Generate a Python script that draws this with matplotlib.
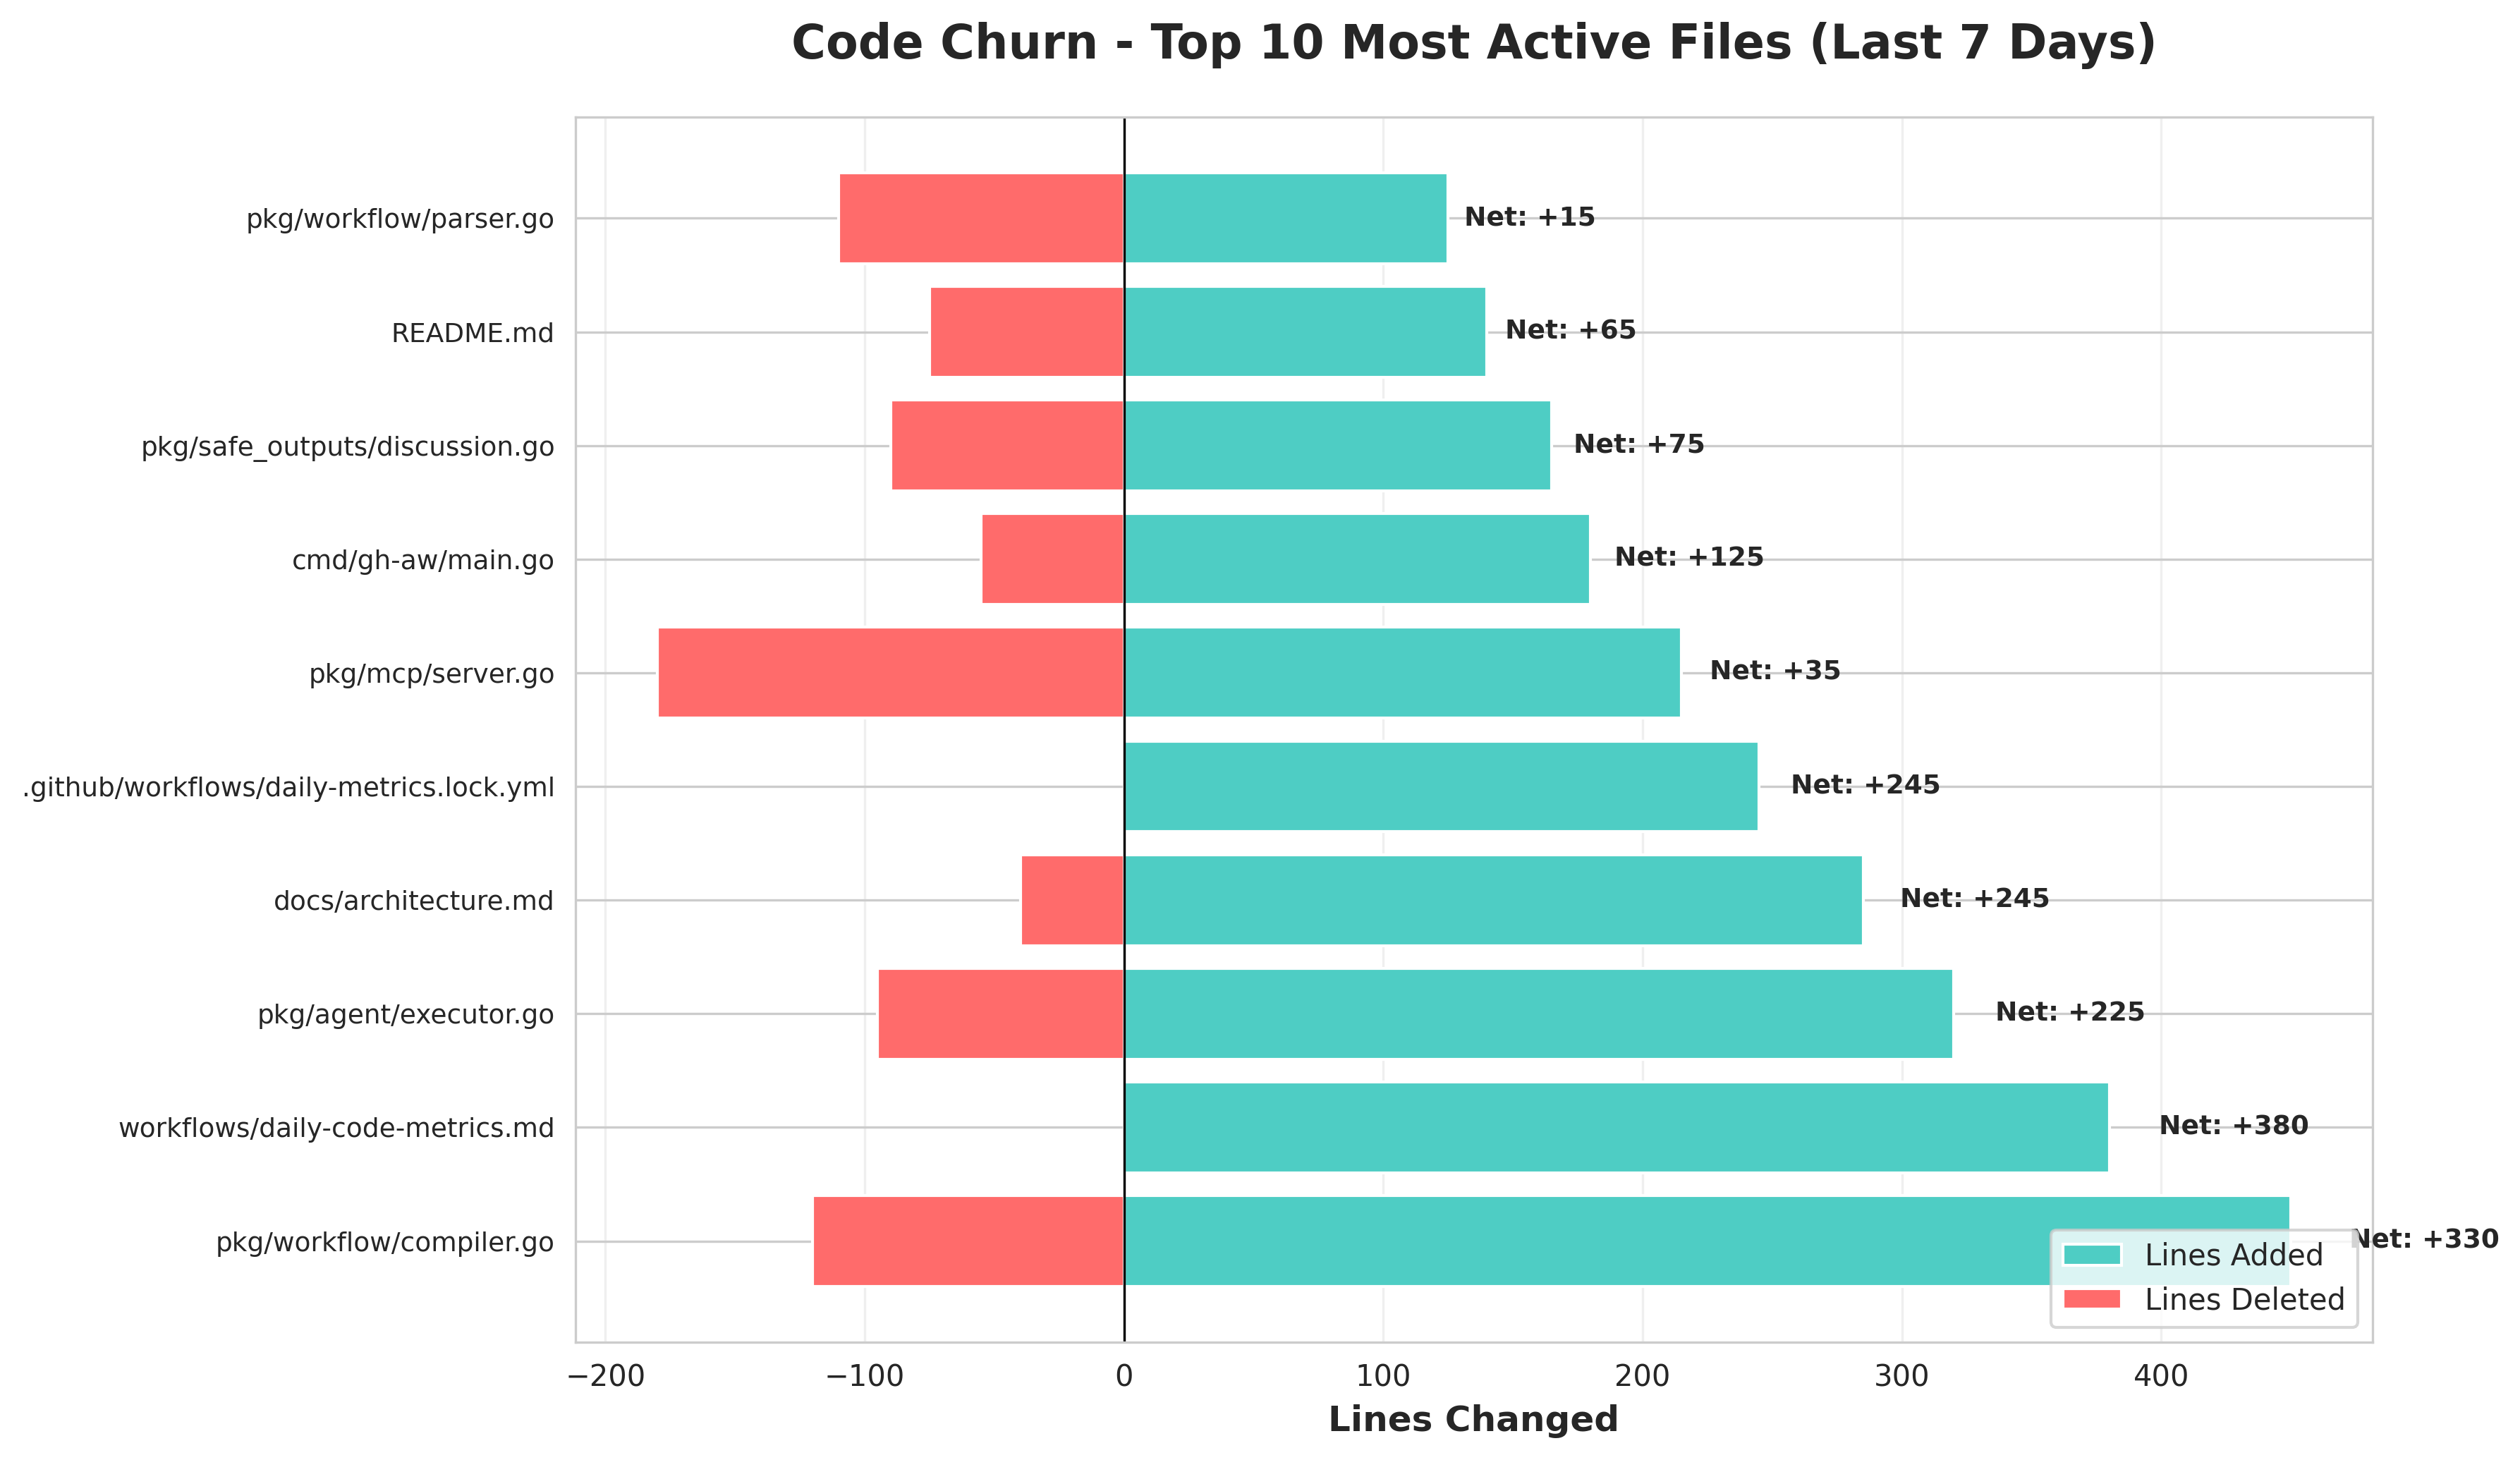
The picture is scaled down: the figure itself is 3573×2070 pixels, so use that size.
import matplotlib
matplotlib.use("Agg")
import matplotlib.pyplot as plt
import numpy as np
import seaborn as sns

sns.set_style("whitegrid")

# top 10 files by churn, bottom to top
files = [
    "pkg/workflow/compiler.go",
    "workflows/daily-code-metrics.md",
    "pkg/agent/executor.go",
    "docs/architecture.md",
    ".github/workflows/daily-metrics.lock.yml",
    "pkg/mcp/server.go",
    "cmd/gh-aw/main.go",
    "pkg/safe_outputs/discussion.go",
    "README.md",
    "pkg/workflow/parser.go",
]
lines_added = [450, 380, 320, 285, 245, 215, 180, 165, 140, 125]
lines_deleted = [120, 0, 95, 40, 0, 180, 55, 90, 75, 110]

added = np.array(lines_added)
deleted = np.array(lines_deleted)
net = added - deleted
y = np.arange(len(files))

fig, ax = plt.subplots(figsize=(3573 / 300, 2070 / 300))
fig.subplots_adjust(left=0.2284, right=0.9415, top=0.9198, bottom=0.0807)

ax.barh(y, added, height=0.8, color="#4ECDC4", label="Lines Added")
ax.barh(y, -deleted, height=0.8, color="#FF6B6B", label="Lines Deleted")

for i in range(len(files)):
    ax.text(added[i] * 1.05, y[i], f"Net: {net[i]:+d}", va="center",
            fontsize=9, fontweight="bold")

ax.axvline(0, color="black", linewidth=0.8)
ax.set_yticks(y)
ax.set_yticklabels(files, fontsize=9)
ax.set_xlabel("Lines Changed", fontsize=12, fontweight="bold")
ax.set_title("Code Churn - Top 10 Most Active Files (Last 7 Days)",
             fontsize=16, fontweight="bold", pad=20)
ax.legend(loc="lower right")
ax.grid(True, axis="x", alpha=0.3)

fig.savefig("out.png", dpi=300)
